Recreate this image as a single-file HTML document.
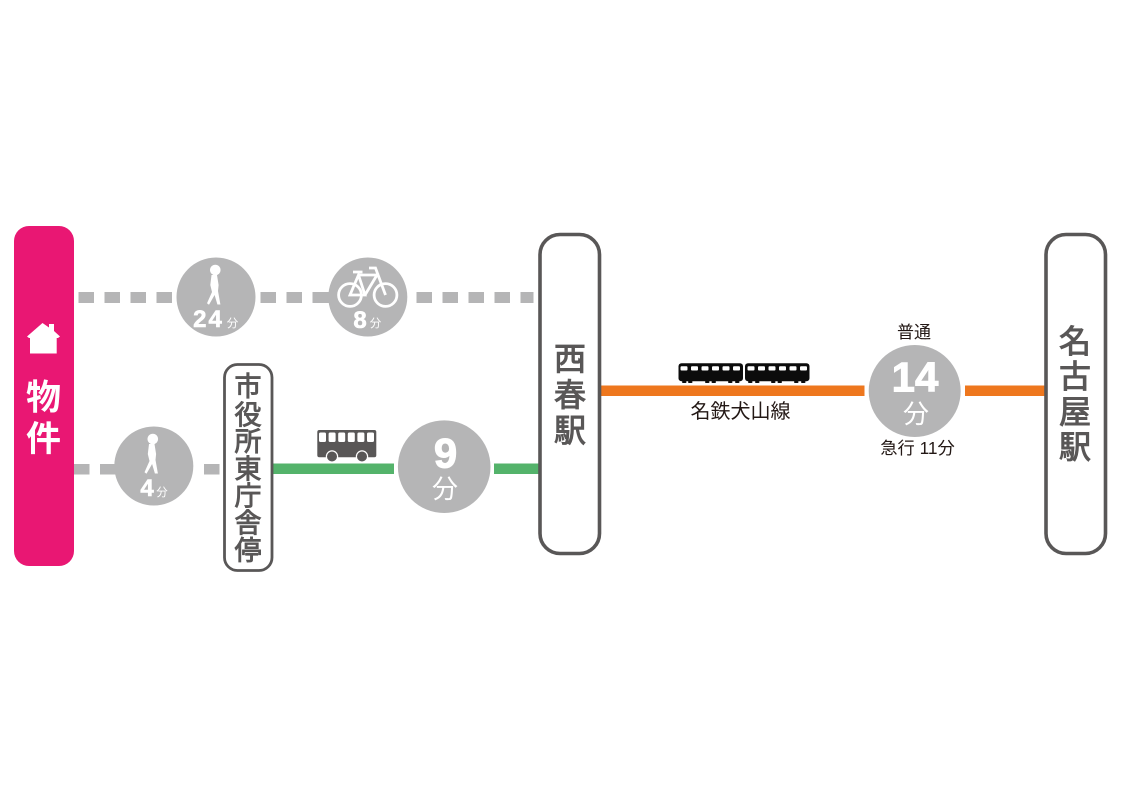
<!DOCTYPE html>
<html lang="ja"><head><meta charset="utf-8"><style>
html,body{margin:0;padding:0;background:#fff}
svg{display:block}
text{font-family:"Liberation Sans","Noto Sans CJK JP",sans-serif}
</style></head><body>
<svg width="1121" height="800" viewBox="0 0 1121 800" xmlns="http://www.w3.org/2000/svg">
<rect width="1121" height="800" fill="#fff"/>
<!-- dashes -->
<g fill="#b5b5b6">
<rect x="78.5" y="292" width="15.5" height="11"/><rect x="104.5" y="292" width="15.5" height="11"/><rect x="130.5" y="292" width="15.5" height="11"/><rect x="156.5" y="292" width="15.5" height="11"/>
<rect x="260.5" y="292" width="15.5" height="11"/><rect x="286.5" y="292" width="15.5" height="11"/><rect x="312.5" y="292" width="20" height="11"/>
<rect x="416.5" y="292" width="15.5" height="11"/><rect x="442.5" y="292" width="15.5" height="11"/><rect x="468.5" y="292" width="15.5" height="11"/><rect x="494.5" y="292" width="15.5" height="11"/><rect x="520.5" y="292" width="13" height="11"/>
<rect x="74" y="464" width="15.5" height="10.5"/><rect x="100" y="464" width="20" height="10.5"/><rect x="204" y="464" width="15.5" height="10.5"/>
<circle cx="216" cy="297" r="39.5"/><circle cx="367.8" cy="297" r="39.5"/><circle cx="153.8" cy="466" r="39.5"/>
<circle cx="444.2" cy="466.7" r="46.3"/><circle cx="914.7" cy="391" r="46"/>
</g>
<!-- lines -->
<rect x="273" y="463.5" width="121" height="10.5" fill="#54b36b"/><rect x="494" y="463.5" width="45" height="10.5" fill="#54b36b"/>
<rect x="600" y="385.5" width="264.5" height="10.5" fill="#ee771e"/><rect x="965" y="385.5" width="80" height="10.5" fill="#ee771e"/>
<!-- boxes -->
<rect x="14" y="226" width="60" height="340" rx="15" fill="#e91773"/>
<rect x="224.5" y="364.5" width="47.5" height="206" rx="13" fill="#fff" stroke="#595757" stroke-width="2.8"/>
<rect x="540" y="234.5" width="59.5" height="319" rx="20" fill="#fff" stroke="#595757" stroke-width="3.6"/>
<rect x="1046" y="234.5" width="59.5" height="319" rx="20" fill="#fff" stroke="#595757" stroke-width="3.6"/>
<!-- house -->
<path fill="#fff" d="M42.5 323 L49 327.5 V324 H54 V331 L60 336.5 L58 338 H56.7 V353.5 H30 V338 H29 L27 336.5 Z"/>
<!-- walkers -->
<g fill="#fff">
<circle cx="215.3" cy="270" r="5.3"/>
<path d="M211.5 275 H217 L218.6 285 L218 291 L220.4 304.5 H217.4 L214.6 295 L209 304.8 L207 303.2 L212 292 L210.3 285 Z"/>
</g>
<g fill="#fff">
<circle cx="152.8" cy="439" r="5.3"/>
<path d="M149 444 H154.5 L156.1 454 L155.5 460 L157.9 473.5 H154.9 L152.1 464 L146.5 473.8 L144.5 472.2 L149.5 461 L147.8 454 Z"/>
</g>
<!-- bicycle -->
<g fill="none" stroke="#fff" stroke-width="2.8">
<circle cx="350" cy="295" r="11.4"/><circle cx="385.5" cy="295" r="11.4"/>
<path d="M350 295 H365 L358.5 275 Z M358.5 275 H377 L365 295 M369 268 H375.5 L385.5 295 M353 272 H362.5"/>
</g>
<!-- bus -->
<rect x="317.3" y="430" width="59" height="27.3" rx="2" fill="#595757"/>
<g fill="#fff">
<rect x="319" y="432.5" width="7" height="9.5" rx="1.5"/><rect x="328.6" y="432.5" width="7" height="9.5" rx="1.5"/><rect x="338.2" y="432.5" width="7" height="9.5" rx="1.5"/><rect x="347.8" y="432.5" width="7" height="9.5" rx="1.5"/><rect x="357.4" y="432.5" width="7" height="9.5" rx="1.5"/><rect x="367" y="432.5" width="7" height="9.5" rx="1.5"/>
</g>
<circle cx="332" cy="456.5" r="5.6" fill="#595757" stroke="#fff" stroke-width="1.2"/><circle cx="362" cy="456.5" r="5.6" fill="#595757" stroke="#fff" stroke-width="1.2"/>
<!-- train -->
<g fill="#0c0c0c">
<rect x="678.5" y="363.3" width="64.5" height="18" rx="3"/><rect x="745" y="363.3" width="64.5" height="18" rx="3"/>
<rect x="682" y="381" width="4.5" height="2" rx="1"/><rect x="688" y="381" width="4.5" height="2" rx="1"/>
<rect x="705" y="381" width="4.5" height="2" rx="1"/><rect x="711.5" y="381" width="4.5" height="2" rx="1"/>
<rect x="728" y="381" width="4.5" height="2" rx="1"/><rect x="735" y="381" width="4.5" height="2" rx="1"/>
<rect x="748" y="381" width="4.5" height="2" rx="1"/><rect x="755" y="381" width="4.5" height="2" rx="1"/>
<rect x="771" y="381" width="4.5" height="2" rx="1"/><rect x="777.5" y="381" width="4.5" height="2" rx="1"/>
<rect x="794" y="381" width="4.5" height="2" rx="1"/><rect x="801" y="381" width="4.5" height="2" rx="1"/>
</g>
<g fill="#fff">
<rect x="680.5" y="366.3" width="7" height="4.2" rx="1"/><rect x="691" y="366.3" width="7" height="4.2" rx="1"/><rect x="701.5" y="366.3" width="7" height="4.2" rx="1"/><rect x="712" y="366.3" width="7" height="4.2" rx="1"/><rect x="722.5" y="366.3" width="7" height="4.2" rx="1"/><rect x="733" y="366.3" width="7" height="4.2" rx="1"/>
<rect x="747.5" y="366.3" width="7" height="4.2" rx="1"/><rect x="758" y="366.3" width="7" height="4.2" rx="1"/><rect x="768.5" y="366.3" width="7" height="4.2" rx="1"/><rect x="779" y="366.3" width="7" height="4.2" rx="1"/><rect x="789.5" y="366.3" width="7" height="4.2" rx="1"/><rect x="800" y="366.3" width="7" height="4.2" rx="1"/>
</g>
<!-- text -->
<g font-size="35" font-weight="700" fill="#fff" text-anchor="middle"><text x="43.5" y="409.5">物</text><text x="43.5" y="451">件</text></g>
<g font-size="27" fill="#595757" stroke="#595757" stroke-width="0.9" text-anchor="middle">
<text x="248" y="396">市</text><text x="248" y="424.5">役</text><text x="248" y="451">所</text><text x="248" y="478.5">東</text><text x="248" y="505.5">庁</text><text x="248" y="532.5">舎</text><text x="248" y="560">停</text>
</g>
<g font-size="32" fill="#595757" stroke="#595757" stroke-width="1" text-anchor="middle">
<text x="570" y="370">西</text><text x="570" y="406">春</text><text x="570" y="441.5">駅</text>
<text x="1075" y="352.5">名</text><text x="1075" y="387.5">古</text><text x="1075" y="423">屋</text><text x="1075" y="458">駅</text>
</g>
<text x="914" y="338" font-size="17" fill="#231815" text-anchor="middle">普通</text>
<text x="740.5" y="418" font-size="20" fill="#231815" text-anchor="middle">名鉄犬山線</text>
<text x="917.5" y="454" font-size="17.3" fill="#231815" text-anchor="middle">急行 11分</text>
<text x="915" y="391.5" font-size="42" font-weight="700" fill="#fff" stroke="#fff" stroke-width="1" text-anchor="middle">14</text>
<text x="916" y="423" font-size="26" fill="#fff" text-anchor="middle">分</text>
<text x="445.5" y="467.5" font-size="42" font-weight="700" fill="#fff" stroke="#fff" stroke-width="1" text-anchor="middle">9</text>
<text x="445" y="498" font-size="26" fill="#fff" text-anchor="middle">分</text>
<text x="208.5" y="327" font-size="24" font-weight="700" fill="#fff" stroke="#fff" stroke-width="0.6" text-anchor="middle" letter-spacing="2">24</text>
<text x="232.5" y="327" font-size="11.5" fill="#fff" text-anchor="middle">分</text>
<text x="360" y="328" font-size="24" font-weight="700" fill="#fff" stroke="#fff" stroke-width="0.6" text-anchor="middle">8</text>
<text x="375.5" y="327" font-size="11.5" fill="#fff" text-anchor="middle">分</text>
<text x="147" y="496" font-size="24" font-weight="700" fill="#fff" stroke="#fff" stroke-width="0.6" text-anchor="middle">4</text>
<text x="162" y="496" font-size="11.5" fill="#fff" text-anchor="middle">分</text>
</svg>
</body></html>
